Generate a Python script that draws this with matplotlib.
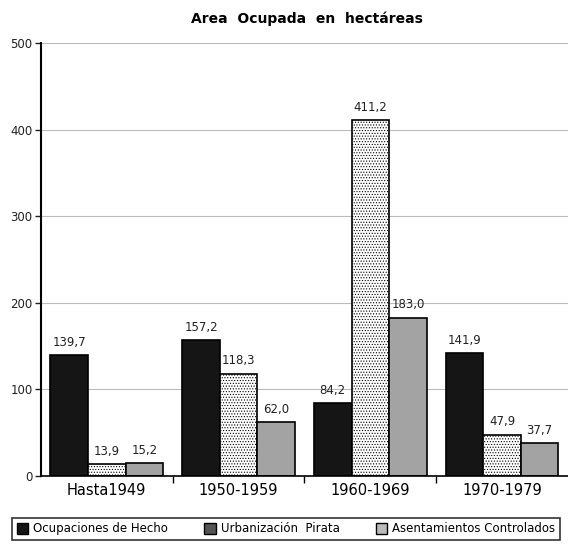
import matplotlib.pyplot as plt
import matplotlib.patches as mpatches
import numpy as np

plt.rcParams['font.family'] = ['DejaVu Sans']
plt.rcParams['hatch.color'] = '#8a8a8a'
plt.rcParams['hatch.linewidth'] = 0.5

categories = ['Hasta1949', '1950-1959', '1960-1969', '1970-1979']
ocupaciones = [139.7, 157.2, 84.2, 141.9]
urbanizacion = [13.9, 118.3, 411.2, 47.9]
asentamientos = [15.2, 62.0, 183.0, 37.7]
series_names = ['Ocupaciones de Hecho', 'Urbanización  Pirata', 'Asentamientos Controlados']

fig = plt.figure(figsize=(5.68, 5.44), dpi=100)
ax = fig.add_axes([0.072, 0.125, 0.928, 0.796])

x = np.arange(len(categories))
w = 0.285
b1 = ax.bar(x - w, ocupaciones, w, color='#151515', edgecolor='black', linewidth=1.2)
b2 = ax.bar(x, urbanizacion, w, color='white', edgecolor='black', linewidth=1.2, hatch='......')
b3 = ax.bar(x + w, asentamientos, w, color='#a3a3a3', edgecolor='black', linewidth=1.2)

for bars in (b1, b2, b3):
    for r in bars:
        h = r.get_height()
        ax.text(r.get_x() + r.get_width() / 2, h + 7, f'{h:.1f}'.replace('.', ','),
                ha='center', va='bottom', fontsize=8.5, color='#222222')

ax.set_xlim(-0.5, 3.5)
ax.set_ylim(0, 500)
ax.set_yticks([0, 100, 200, 300, 400, 500])
ax.tick_params(axis='y', labelsize=8.5, length=4, width=1, colors='#222222', pad=2)
ax.yaxis.grid(True, color='#bbbbbb', linewidth=0.8)
ax.set_axisbelow(True)

ax.set_xticks(x)
ax.set_xticklabels(categories, fontsize=10.5)
ax.tick_params(axis='x', length=0, pad=5)
ax.set_xticks([0.5, 1.5, 2.5], minor=True)
ax.tick_params(axis='x', which='minor', length=5, width=1, direction='out')

for s in ['top', 'right']:
    ax.spines[s].set_visible(False)
ax.spines['left'].set_linewidth(1.5)
ax.spines['bottom'].set_linewidth(1.2)

fig.text(0.54, 0.965, 'Area  Ocupada  en  hectáreas', ha='center', va='center',
         fontsize=10, fontweight='bold')

handles = [mpatches.Patch(facecolor='#151515', edgecolor='black'),
           mpatches.Patch(facecolor='#555555', edgecolor='black'),
           mpatches.Patch(facecolor='#bbbbbb', edgecolor='black')]
leg = fig.legend(handles, series_names, loc='lower left', ncol=3, mode='expand',
                 bbox_to_anchor=(0.021, 0.007, 0.965, 0.051), fontsize=8.5,
                 frameon=True, fancybox=False, handlelength=1.0, handleheight=1.1,
                 handletextpad=0.4, borderaxespad=0, borderpad=0.4, columnspacing=0.5)
leg.get_frame().set_edgecolor('black')
leg.get_frame().set_linewidth(1.2)

fig.savefig('out.png', dpi=100)
